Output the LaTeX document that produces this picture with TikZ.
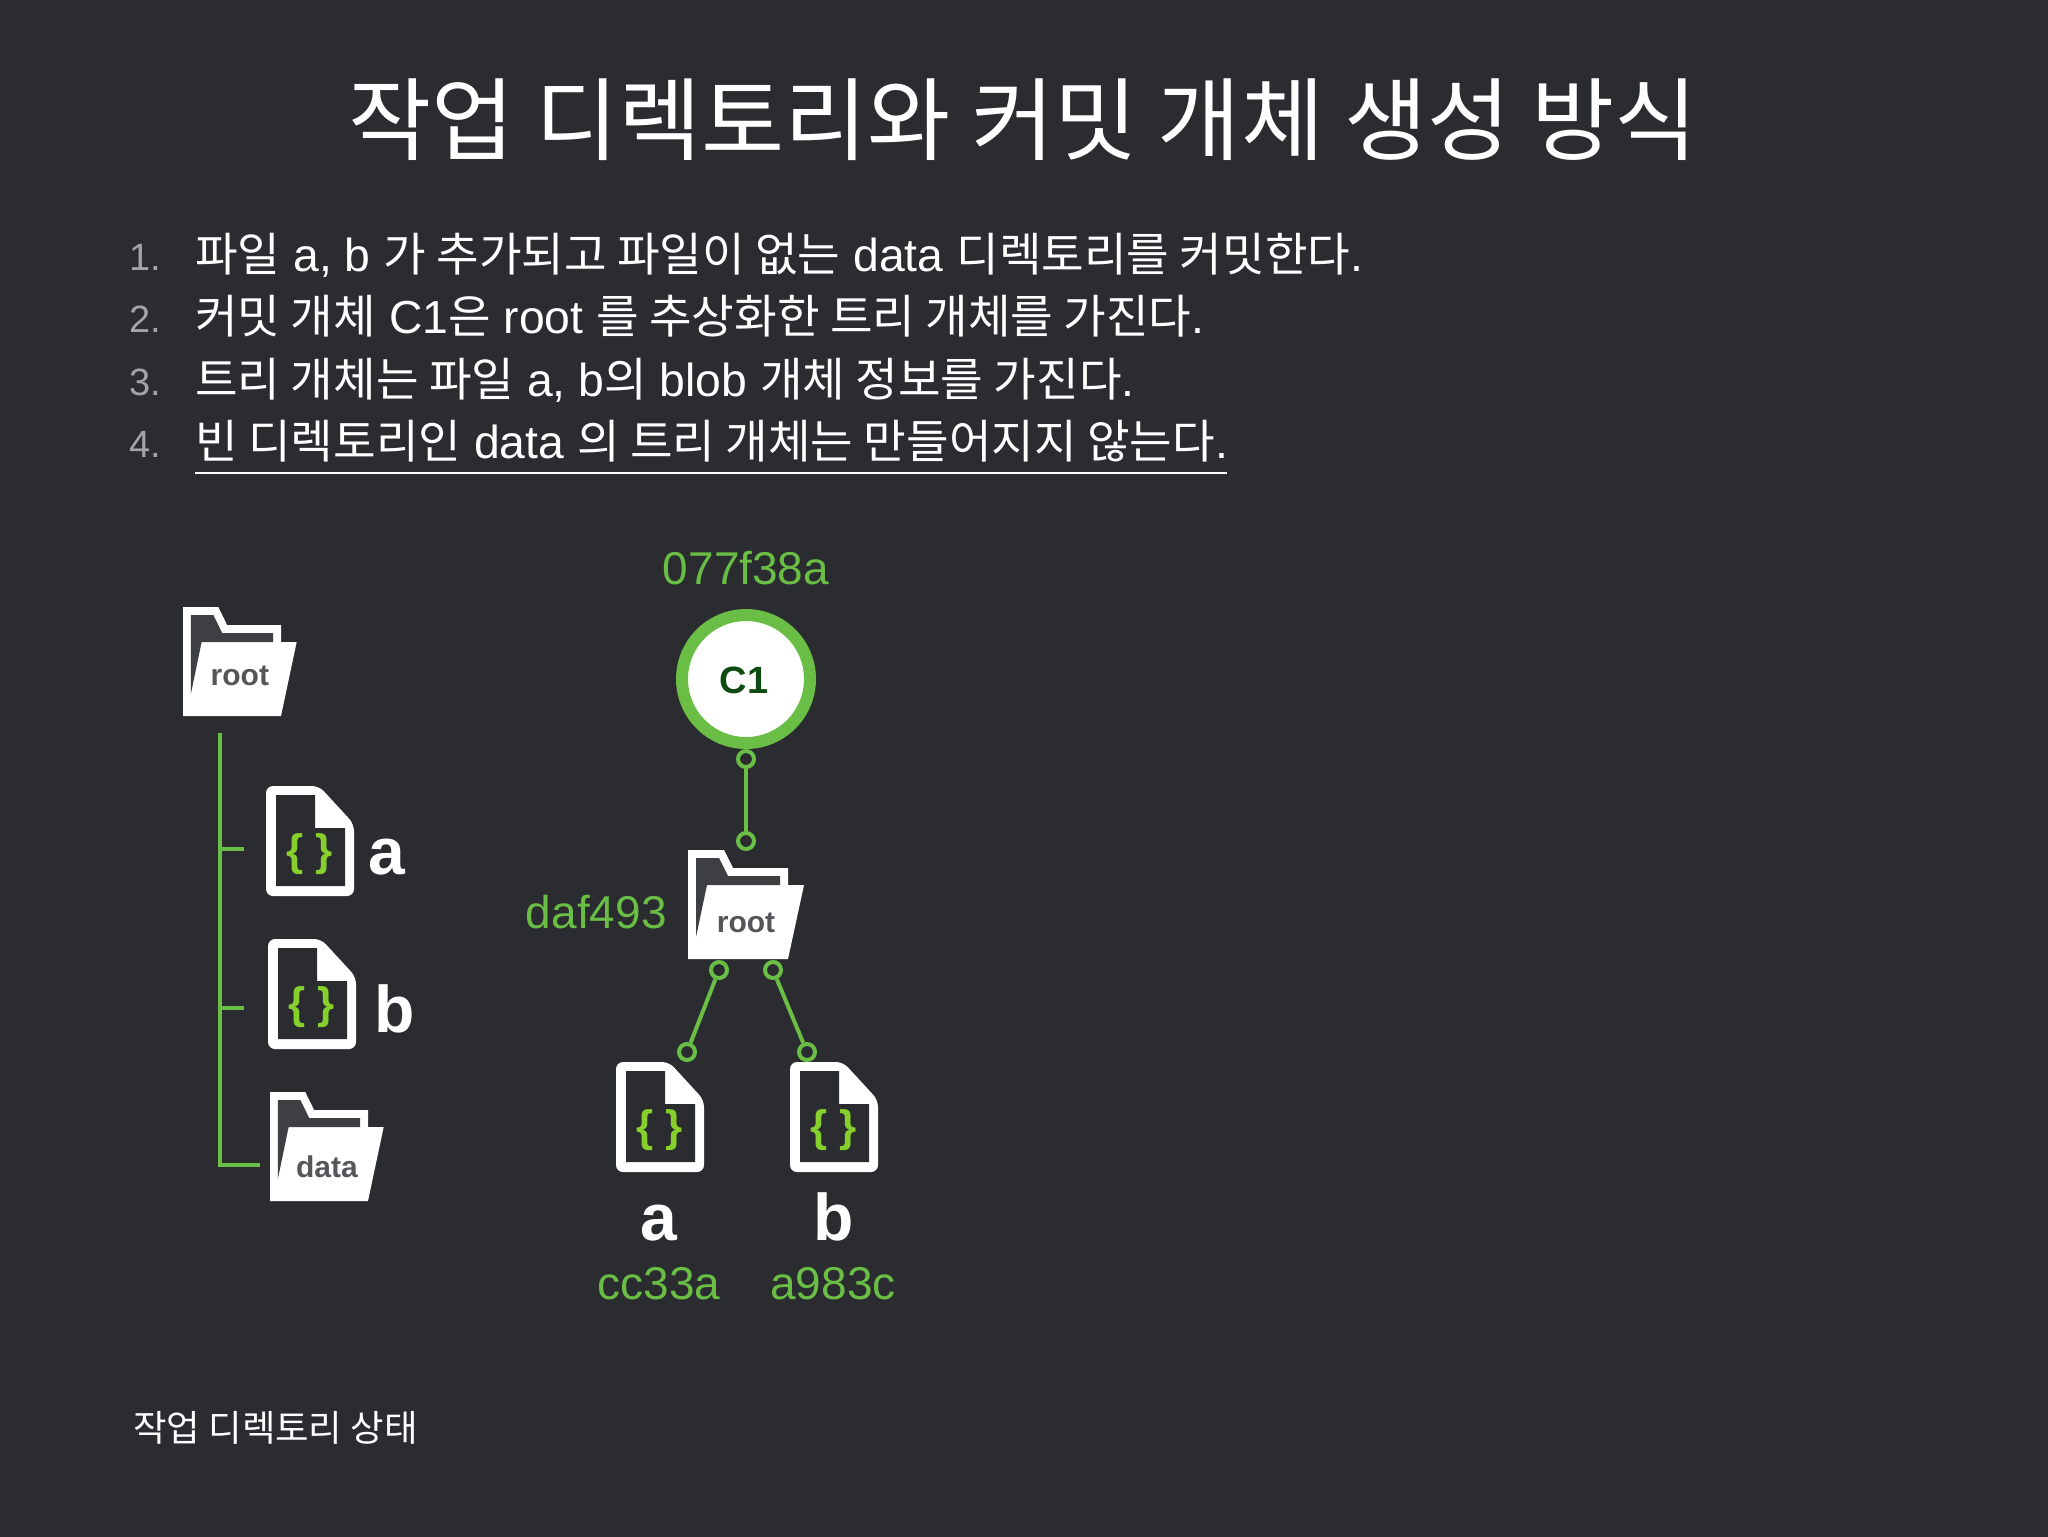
\documentclass[tikz,border=0pt]{standalone}
\usepackage{fontspec}
\setmainfont{Liberation Sans}
\newfontfamily\krfont{Noto Sans CJK KR}
\newcommand{\ko}[1]{{\krfont #1}}
\definecolor{bgdark}{HTML}{2A2C30}
\definecolor{windowgray}{HTML}{3E3F42}
\definecolor{labelgray}{HTML}{55565A}
\definecolor{numgray}{HTML}{A3A4A6}
\definecolor{linegreen}{HTML}{6ABD45}
\definecolor{bracegreen}{HTML}{86CF2C}
\definecolor{commitgreen}{HTML}{0F4A12}
\tikzset{
	x=0.5pt,y=-0.5pt,
	titletext/.style={font=\fontsize{45.2}{54}\selectfont,text=white,inner sep=0pt,anchor=base},
	bodytext/.style={font=\fontsize{23.15}{29}\selectfont,text=white,inner sep=0pt,anchor=base west},
	numtext/.style={font=\fontsize{19}{29}\selectfont,text=numgray,inner sep=0pt,anchor=base west},
	hashtext/.style={font=\fontsize{23}{28}\selectfont,text=linegreen,inner sep=0pt,anchor=base},
	filetext/.style={font=\fontsize{33}{40}\selectfont\bfseries,text=white,inner sep=0pt,anchor=base},
	foldertext/.style={font=\fontsize{15}{18}\selectfont\bfseries,text=labelgray,inner sep=0pt,anchor=base},
	link/.style={draw=linegreen,line width=2pt},
	dot/.style={draw=linegreen,fill=bgdark,circle,line width=2pt,minimum size=8pt,inner sep=0pt},
	pics/folderpic/.style n args={2}{code={
		\fill[white] (0,0)--(36,0)--(45,18)--(100,18)--(100,35)--(116,35)--(100,109)--(0,109)--cycle;
		\fill[windowgray] (8,8)--(31,8)--(40,26)--(92,26)--(92,35)--(19,35)--(8,87)--cycle;
		\node[foldertext] (-label) at (58,#2) {#1};
	}},
	pics/filepic/.style={code={
		\fill[white,rounded corners=3.5pt] (0,0)--(53,0)--(88,38)--(88,110)--(0,110)--cycle;
		\fill[bgdark] (10,9)--(49,9)--(49,42)--(79,42)--(79,100)--(10,100)--cycle;
		\node[font=\fontsize{22}{24}\selectfont\bfseries,text=bracegreen,inner sep=0pt] (-brace) at (44,68) {\{\hspace{6pt}\}};
	}}
}
\begin{document}
\begin{tikzpicture}
	\useasboundingbox (0,0) rectangle (2048,1536);
	\fill[bgdark] (-4,-4) rectangle (2052,1540);
	\node[titletext] (title) at (1023,154) {\ko{작업 디렉토리와 커밋 개체 생성 방식}};
	\node[numtext] (n1) at (129,270) {1.};
	\node[numtext] (n2) at (129,332) {2.};
	\node[numtext] (n3) at (129,395) {3.};
	\node[numtext] (n4) at (129,457) {4.};
	\node[bodytext] (l1) at (195,271) {\ko{파일} a, b \ko{가 추가되고 파일이 없는} data \ko{디렉토리를 커밋한다}.};
	\node[bodytext] (l2) at (195,333) {\ko{커밋 개체} C1\ko{은} root \ko{를 추상화한 트리 개체를 가진다}.};
	\node[bodytext] (l3) at (195,396) {\ko{트리 개체는 파일} a, b\ko{의} blob \ko{개체 정보를 가진다}.};
	\node[bodytext] (l4) at (195,458) {\ko{빈 디렉토리인} data \ko{의 트리 개체는 만들어지지 않는다}.};
	\coordinate (u1) at (195,473);
	\coordinate (u2) at (1227,473);
	\draw[white,line width=1.1pt] (u1) -- (u2);
	\pic[xscale=0.98] (rootleft) at (183,607) {folderpic={root}{78}};
	\pic (filea) at (266,786) {filepic};
	\pic (fileb) at (268,939) {filepic};
	\pic[xscale=0.98] (dataleft) at (270,1092) {folderpic={data}{85}};
	\node[filetext] (namea) at (387,874) {a};
	\node[filetext] (nameb) at (395,1032) {b};
	\coordinate (t0) at (220,733);
	\coordinate (t1) at (220,849);
	\coordinate (t2) at (220,1008);
	\coordinate (t3) at (220,1165);
	\coordinate (t4) at (244,849);
	\coordinate (t5) at (244,1008);
	\coordinate (t6) at (260,1165);
	\draw[link] (t0) -- (t3) -- (t6);
	\draw (t1) edge [link] (t4);
	\draw (t2) edge [link] (t5);
	\node[hashtext] (hashc) at (746,584) {077f38a};
	\node[draw=linegreen,fill=white,circle,line width=6pt,minimum size=64pt,inner sep=0pt] (c1) at (746,679) {};
	\node[font=\fontsize{19}{24}\selectfont\bfseries,text=commitgreen,inner sep=0pt] (c1text) at (744,680) {C1};
	\node[dot] (d1) at (746,759) {};
	\node[dot] (d2) at (746,841) {};
	\draw (d1) edge [link] (d2);
	\pic (rootright) at (688,850) {folderpic={root}{82}};
	\node[hashtext,anchor=base east] (hashr) at (667,928) {daf493};
	\node[dot] (d3) at (719,970) {};
	\node[dot] (d4) at (773,970) {};
	\node[dot] (d5) at (687,1052) {};
	\node[dot] (d6) at (807,1052) {};
	\draw (d3) edge [link] (d5);
	\draw (d4) edge [link] (d6);
	\pic (blobleft) at (616,1062) {filepic};
	\pic (blobright) at (790,1062) {filepic};
	\node[filetext] (bloba) at (659,1240) {a};
	\node[filetext] (blobb) at (834,1240) {b};
	\node[hashtext] (hasha) at (659,1299) {cc33a};
	\node[hashtext] (hashb) at (833,1299) {a983c};
	\node[font=\fontsize{18.2}{22}\selectfont,text=white,inner sep=0pt,anchor=base west] (caption) at (133,1441) {\ko{작업 디렉토리 상태}};
\end{tikzpicture}
\end{document}
